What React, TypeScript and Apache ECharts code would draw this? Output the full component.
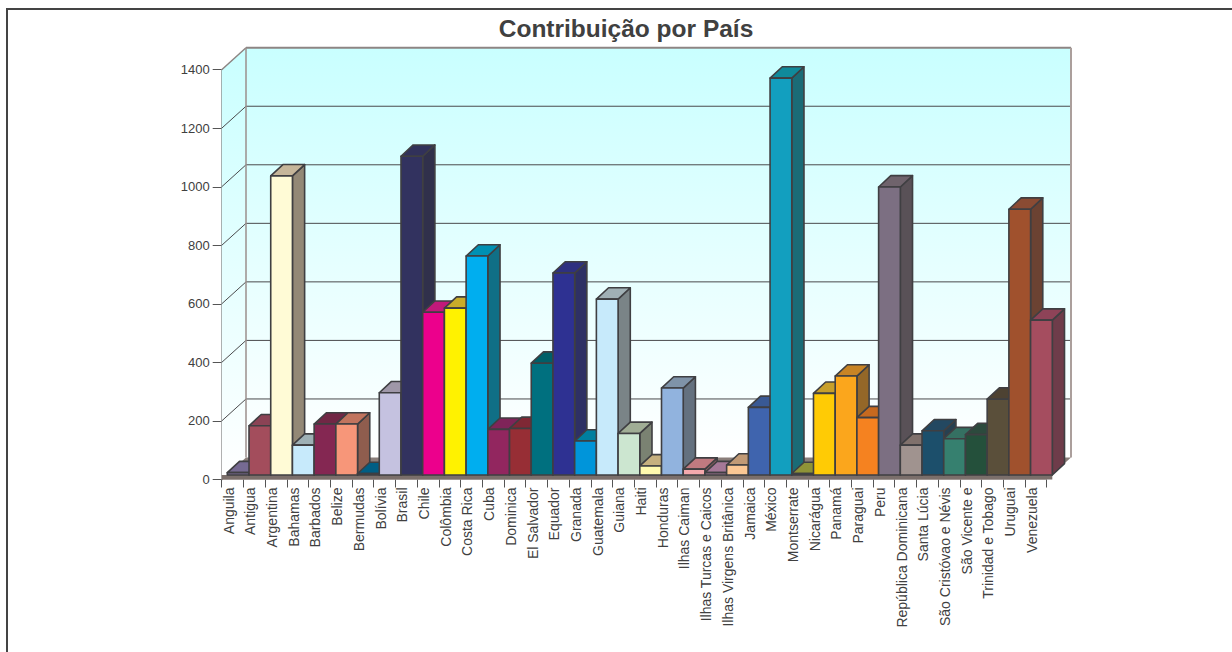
import React, { useEffect, useRef } from "react";
import * as echarts from "echarts";

const countries = [
  "Anguila", "Antigua", "Argentina", "Bahamas", "Barbados", "Belize", "Bermudas", "Bolívia", "Brasil", "Chile",
  "Colômbia", "Costa Rica", "Cuba", "Dominica", "El Salvador", "Equador", "Granada", "Guatemala", "Guiana", "Haiti",
  "Honduras", "Ilhas Caiman", "Ilhas Turcas e Caicos", "Ilhas Virgens Britânica", "Jamaica", "México", "Montserrate",
  "Nicarágua", "Panamá", "Paraguai", "Peru", "República Dominicana", "Santa Lúcia", "São Cristóvao e Névis",
  "São Vicente e", "Trinidad e Tobago", "Uruguai", "Venezuela",
];
const values = [
  8, 168, 1022, 102, 174, 174, 5, 281, 1089, 556,
  570, 748, 156, 159, 382, 690, 116, 601, 142, 31,
  297, 20, 8, 34, 231, 1356, 5, 279, 338, 196,
  984, 102, 151, 124, 138, 259, 908, 529,
];
const frontColors = [
  "#7F6F99", "#A34D5C", "#FFFBD6", "#C7EAFB", "#842752", "#F79679", "#005E84", "#C5C2E0", "#32325F", "#EC008C",
  "#FFF200", "#00AEEF", "#92265F", "#972E35", "#00707F", "#2E3192", "#0095DA", "#C7EAFB", "#CCE6D0", "#FFF9AE",
  "#91B3DE", "#F5A9AD", "#A07692", "#FBC794", "#3F64AE", "#129FBF", "#8F9337", "#FFCB05", "#FBA61C", "#F58220",
  "#7C6F82", "#A0938F", "#1C4F6B", "#36806F", "#24503B", "#5A4F3A", "#A0512D", "#A54D5F",
];
const topColors = [
  "#766A92", "#8B4355", "#C6B69A", "#9EB0B5", "#712745", "#C1745E", "#005E84", "#9F97A8", "#31315A", "#C1197A",
  "#C9AC2A", "#0090B3", "#7F2459", "#7F2835", "#005F68", "#2E3080", "#007F9F", "#A0B0B5", "#A0AD95", "#C6B07F",
  "#7F93A8", "#C07A80", "#A57898", "#C19A76", "#395994", "#0F8A9B", "#8F9337", "#C79F2B", "#C88425", "#C6691F",
  "#6F636C", "#80716C", "#234861", "#357062", "#2C4A3D", "#4D4232", "#8A4B33", "#8E4358",
];
const yTicks = [0, 200, 400, 600, 800, 1000, 1200, 1400];

const WALL_DX = 24.3;
const WALL_DY = -22;
const BAR_INSET_X = 5.6;
const BAR_INSET_Y = -4.5;
const BAR_DX = 12.2;
const BAR_DY = -11.3;
const EDGE = "#3f3f42";

function sideColor(hex: string) {
  const n = parseInt(hex.slice(1), 16);
  const f = (c: number) => Math.round(c * 0.66 + 16);
  return `rgb(${f((n >> 16) & 255)},${f((n >> 8) & 255)},${f(n & 255)})`;
}

function renderWalls(_p: any, api: any) {
  const bl = api.coord([0, 0]);
  const band = api.size([1, 0])[0];
  const left = bl[0] - band / 2;
  const right = left + band * countries.length;
  const y0 = bl[1];
  const yTop = api.coord([0, 1400])[1];
  const wallGrad = new echarts.graphic.LinearGradient(0, 0, 0, 1, [
    { offset: 0, color: "#C9FFFF" },
    { offset: 1, color: "#FFFFFF" },
  ]);
  const children: any[] = [
    {
      type: "polygon",
      shape: { points: [[left, yTop], [left + WALL_DX, yTop + WALL_DY], [left + WALL_DX, y0 + WALL_DY], [left, y0]] },
      style: { fill: wallGrad, stroke: "none" },
    },
    {
      type: "rect",
      shape: { x: left + WALL_DX, y: yTop + WALL_DY, width: right - left, height: y0 - yTop },
      style: { fill: wallGrad, stroke: "none" },
    },
  ];
  yTicks.forEach((t) => {
    if (t === 0) return;
    const y = api.coord([0, t])[1];
    const isTop = t === 1400;
    children.push({
      type: "line",
      shape: { x1: left, y1: y, x2: left + WALL_DX, y2: y + WALL_DY },
      style: { stroke: isTop ? "#8d8583" : "#4a4a4c", lineWidth: isTop ? 1.5 : 1 },
    });
    children.push({
      type: "line",
      shape: { x1: left + WALL_DX, y1: y + WALL_DY, x2: right + WALL_DX, y2: y + WALL_DY },
      style: { stroke: isTop ? "#8d8583" : "#4a4a4c", lineWidth: isTop ? 2 : 1 },
    });
  });
  children.push({
    type: "line",
    shape: { x1: left + WALL_DX, y1: yTop + WALL_DY, x2: left + WALL_DX, y2: y0 + WALL_DY },
    style: { stroke: "#9b8f8c", lineWidth: 1.5 },
  });
  children.push({
    type: "line",
    shape: { x1: right + WALL_DX, y1: yTop + WALL_DY, x2: right + WALL_DX, y2: y0 + WALL_DY },
    style: { stroke: "#ab9f9c", lineWidth: 2 },
  });
  children.push({
    type: "polygon",
    shape: { points: [[left, y0], [right, y0], [right + WALL_DX, y0 + WALL_DY], [left + WALL_DX, y0 + WALL_DY]] },
    style: { fill: "#8a7e7a", stroke: "none" },
  });
  children.push({
    type: "rect",
    shape: { x: left, y: y0 + BAR_INSET_Y, width: right - left + BAR_INSET_X, height: -BAR_INSET_Y },
    style: { fill: "#7b6f6b", stroke: "none" },
  });
  return { type: "group", children };
}

function renderBar(_p: any, api: any) {
  const i = api.value(0);
  const v = api.value(1);
  const top = api.coord([i, v]);
  const base = api.coord([i, 0]);
  const w = api.size([1, 0])[0];
  const x0 = top[0] - w / 2 + BAR_INSET_X;
  const x1 = x0 + w;
  const yT = top[1] + BAR_INSET_Y;
  const yB = base[1] + BAR_INSET_Y;
  const edge = { stroke: EDGE, lineWidth: 1.6, lineJoin: "round" };
  return {
    type: "group",
    children: [
      {
        type: "polygon",
        shape: { points: [[x1, yT], [x1 + BAR_DX, yT + BAR_DY], [x1 + BAR_DX, yB + BAR_DY], [x1, yB]] },
        style: { fill: sideColor(topColors[i]), ...edge },
      },
      {
        type: "polygon",
        shape: { points: [[x0, yT], [x0 + BAR_DX, yT + BAR_DY], [x1 + BAR_DX, yT + BAR_DY], [x1, yT]] },
        style: { fill: topColors[i], ...edge },
      },
      {
        type: "rect",
        shape: { x: x0, y: yT, width: w, height: yB - yT },
        style: { fill: frontColors[i], ...edge },
      },
    ],
  };
}

export default function App() {
  const ref = useRef<HTMLDivElement>(null);
  useEffect(() => {
    const chart = echarts.init(ref.current!, undefined, { renderer: "svg" });
    chart.setOption({
      animation: false,
      backgroundColor: "#ffffff",
      title: {
        text: "Contribuição por País",
        left: 621,
        top: 11,
        textAlign: "center",
        textStyle: { fontFamily: "Liberation Sans", fontSize: 24.5, fontWeight: "bold", color: "#404040" },
      },
      grid: { left: 221.7, top: 69.7, width: 825, height: 409.8 },
      xAxis: {
        type: "category",
        data: countries,
        boundaryGap: true,
        axisLine: { show: false },
        axisTick: { show: true, length: 8, alignWithLabel: false, lineStyle: { color: "#555555" } },
        axisLabel: {
          interval: 0,
          rotate: 90,
          margin: 8,
          verticalAlign: "bottom",
          lineHeight: 8,
          fontFamily: "Liberation Sans",
          fontSize: 14,
          color: "#404040",
        },
        splitLine: { show: false },
      },
      yAxis: {
        type: "value",
        min: 0,
        max: 1400,
        interval: 200,
        axisLine: { show: true, lineStyle: { color: "#6a6a6a", width: 1.5 } },
        axisTick: { show: true, length: 9, lineStyle: { color: "#555555" } },
        axisLabel: {
          margin: 12,
          formatter: (v: number) => String(v),
          fontFamily: "Liberation Sans",
          fontSize: 13,
          color: "#404040",
        },
        splitLine: { show: false },
      },
      graphic: [
        {
          type: "polyline",
          shape: { points: [[7, 652], [7, 9], [1232, 9]] },
          style: { stroke: "#444444", lineWidth: 2, fill: "none" },
        },
      ],
      series: [
        { type: "custom", renderItem: renderWalls, data: [[0, 0]], encode: { x: 0, y: 1 }, silent: true, z: 1 },
        {
          type: "custom",
          renderItem: renderBar,
          data: values.map((v, i) => [i, v]),
          encode: { x: 0, y: 1 },
          silent: true,
          z: 2,
        },
      ],
    });
    return () => chart.dispose();
  }, []);
  return <div ref={ref} style={{ position: "fixed", left: 0, top: 0, width: 1232, height: 652 }} />;
}
